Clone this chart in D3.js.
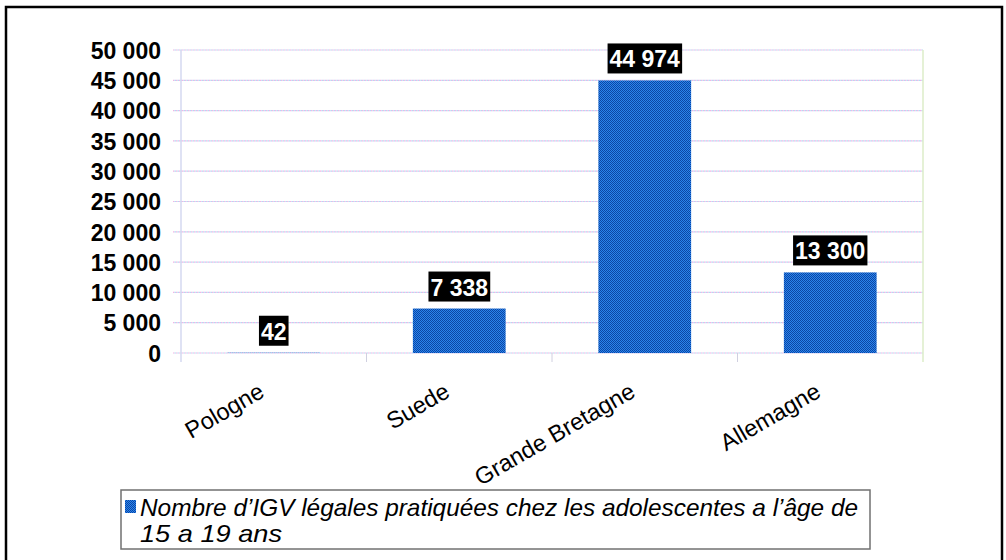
<!DOCTYPE html>
<html><head><meta charset="utf-8">
<script src="https://cdn.jsdelivr.net/npm/d3@7"></script>
<style>html,body{margin:0;padding:0;background:#fff;} svg{display:block;}</style>
</head><body>
<svg id="chart" width="1006" height="560"></svg>
<script>
const categories = ["Pologne", "Suede", "Grande Bretagne", "Allemagne"];
const values = [42, 7338, 44974, 13300];
const valueLabels = ["42", "7 338", "44 974", "13 300"];
const yTicks = [0, 5000, 10000, 15000, 20000, 25000, 30000, 35000, 40000, 45000, 50000];
const seriesName = ["Nombre d\u2019IGV l\u00e9gales pratiqu\u00e9es chez les adolescentes a l\u2019\u00e2ge de", "15 a 19 ans"];

const svg = d3.select("#chart");
const W = 1006, H = 560;
const m = {left: 181, right: 1006 - 923, top: 50, bottom: 560 - 353};
const FONT = "'Liberation Sans', Arial, sans-serif";

// pattern for dithered bar fill
const defs = svg.append("defs");
const pat = defs.append("pattern").attr("id", "dither").attr("patternUnits", "userSpaceOnUse")
  .attr("width", 2).attr("height", 2);
pat.append("rect").attr("width", 2).attr("height", 2).attr("fill", "#2a84ec");
pat.append("rect").attr("width", 1).attr("height", 1).attr("fill", "#0c46a4");
pat.append("rect").attr("x", 1).attr("y", 1).attr("width", 1).attr("height", 1).attr("fill", "#0c46a4");

// outer border
svg.append("rect").attr("x", 6).attr("y", 7).attr("width", 996).attr("height", 560)
  .attr("fill", "none").attr("stroke", "#000").attr("stroke-width", 2.5);

const x = d3.scaleBand().domain(categories).range([m.left, W - m.right]).paddingInner(0.5).paddingOuter(0.25);
const xOuter = d3.scaleBand().domain(categories).range([m.left, W - m.right]).padding(0);
const y = d3.scaleLinear().domain([0, 50000]).range([H - m.bottom, m.top]);

// gridlines (dotted pastel)
const grid = svg.append("g");
yTicks.forEach(t => {
  grid.append("line").attr("x1", m.left - 8).attr("x2", W - m.right).attr("y1", y(t)).attr("y2", y(t))
    .attr("stroke", "#f2b4e6").attr("stroke-width", 1.2).attr("stroke-dasharray", "1.5,1.5");
  grid.append("line").attr("x1", m.left - 6.5).attr("x2", W - m.right).attr("y1", y(t)).attr("y2", y(t))
    .attr("stroke", "#b4dcf2").attr("stroke-width", 1.2).attr("stroke-dasharray", "1.5,1.5");
});
// axis vertical lines
svg.append("line").attr("x1", m.left).attr("x2", m.left).attr("y1", m.top).attr("y2", y(0) + 9)
  .attr("stroke", "#d4d8f0").attr("stroke-width", 1.5);
svg.append("line").attr("x1", W - m.right).attr("x2", W - m.right).attr("y1", m.top).attr("y2", y(0) + 9)
  .attr("stroke", "#dcecc8").attr("stroke-width", 1.5);
// category boundary ticks
categories.slice(1).forEach(c => {
  svg.append("line").attr("x1", xOuter(c)).attr("x2", xOuter(c)).attr("y1", y(0)).attr("y2", y(0) + 9)
    .attr("stroke", "#d0d0e0").attr("stroke-width", 1);
});

// y axis labels
const yAxis = d3.axisLeft(y).tickValues(yTicks).tickSize(0).tickPadding(20)
  .tickFormat(d => d3.format(",")(d).replace(/,/g, " "));
const ya = svg.append("g").attr("transform", `translate(${m.left},0)`).call(yAxis);
ya.select(".domain").remove();
ya.selectAll("text").attr("font-family", FONT)
  .attr("font-size", 23).attr("font-weight", "bold").attr("fill", "#000").attr("dy", "0.36em");

// bars
svg.append("g").selectAll("rect").data(values).join("rect")
  .attr("x", (d, i) => x(categories[i])).attr("width", x.bandwidth())
  .attr("y", d => y(d)).attr("height", d => y(0) - y(d))
  .attr("fill", "url(#dither)");

// value labels
const lbl = svg.append("g").selectAll("g").data(values).join("g");
lbl.each(function(d, i) {
  const g = d3.select(this);
  const cx = x(categories[i]) + x.bandwidth() / 2;
  const t = g.append("text").attr("x", cx).attr("y", y(d) - 13)
    .attr("text-anchor", "middle").attr("font-family", FONT)
    .attr("font-size", 23).attr("font-weight", "bold").attr("fill", "#fff").text(valueLabels[i]);
  const bb = t.node().getBBox();
  g.insert("rect", "text").attr("x", bb.x - 2).attr("width", bb.width + 4)
    .attr("y", y(d) - 37).attr("height", 30).attr("fill", "#000");
});

// category labels
svg.append("g").selectAll("text").data(categories).join("text")
  .attr("transform", c => `translate(${x(c) + x.bandwidth() / 2 - 8},${y(0) + 43}) rotate(-30)`)
  .attr("text-anchor", "end").attr("font-family", FONT)
  .attr("font-size", 23.5).attr("fill", "#000").text(c => c);

// legend
svg.append("rect").attr("x", 121).attr("y", 490).attr("width", 749).attr("height", 59)
  .attr("fill", "#fff").attr("stroke", "#707070").attr("stroke-width", 1.5);
svg.append("rect").attr("x", 125).attr("y", 500).attr("width", 11).attr("height", 13).attr("fill", "url(#dither)");
const lt = svg.append("text").attr("font-family", FONT)
  .attr("font-size", 24).attr("font-style", "italic").attr("fill", "#000");
lt.append("tspan").attr("x", 140).attr("y", 516).attr("textLength", 718).attr("lengthAdjust", "spacingAndGlyphs").text(seriesName[0]);
lt.append("tspan").attr("x", 140).attr("y", 542).attr("textLength", 142).attr("lengthAdjust", "spacingAndGlyphs").text(seriesName[1]);
</script>
</body></html>
